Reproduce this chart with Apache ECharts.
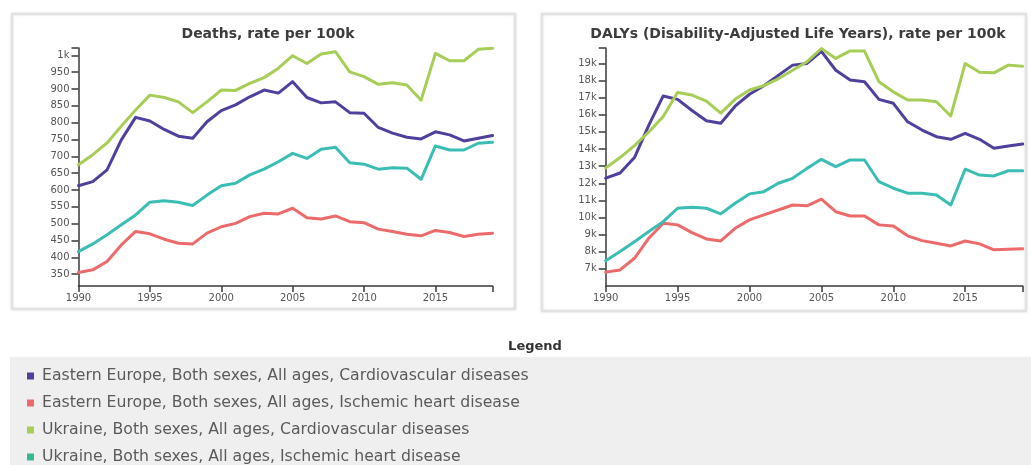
<!DOCTYPE html>
<html>
<head>
<meta charset="utf-8">
<script src="https://cdn.jsdelivr.net/npm/echarts@6/dist/echarts.min.js"></script>
<style>
  html, body { margin: 0; padding: 0; background: #ffffff; }
  #chart { width: 1031px; height: 465px; }
</style>
</head>
<body>
<div id="chart"></div>
<script>
// Years shared by both panels
const years = [1990, 1991, 1992, 1993, 1994, 1995, 1996, 1997, 1998, 1999,
               2000, 2001, 2002, 2003, 2004, 2005, 2006, 2007, 2008, 2009,
               2010, 2011, 2012, 2013, 2014, 2015, 2016, 2017, 2018, 2019];

const seriesNames = [
  'Eastern Europe, Both sexes, All ages, Cardiovascular diseases',
  'Eastern Europe, Both sexes, All ages, Ischemic heart disease',
  'Ukraine, Both sexes, All ages, Cardiovascular diseases',
  'Ukraine, Both sexes, All ages, Ischemic heart disease'
];
const seriesColors = ['#4f409d', '#ec6a6a', '#a6cd55', '#3abdb4'];
const legendColors = ['#4f409d', '#ec6a6a', '#a6cd55', '#34b994'];

// Deaths, rate per 100k
const deathsEECvd = [613, 625, 660, 749, 816, 805, 780, 760, 754, 803,
                     836, 853, 877, 897, 888, 922, 875, 859, 862, 830,
                     828, 786, 769, 757, 752, 773, 764, 746, 754, 762];
const deathsEEIhd = [355, 363, 388, 437, 477, 470, 454, 442, 440, 472,
                     491, 501, 521, 531, 529, 546, 518, 514, 523, 506,
                     503, 484, 477, 469, 464, 480, 474, 462, 469, 472];
const deathsUACvd = [675, 705, 740, 790, 838, 882, 875, 862, 830, 862,
                     897, 896, 917, 934, 962, 999, 976, 1004, 1011, 951,
                     937, 914, 919, 912, 867, 1006, 984, 984, 1018, 1021];
const deathsUAIhd = [417, 440, 467, 497, 526, 564, 568, 564, 554, 585,
                     613, 620, 645, 662, 684, 709, 694, 721, 727, 681,
                     677, 662, 666, 665, 632, 731, 719, 719, 739, 742];

// DALYs, rate per 100k
const dalysEECvd = [12300, 12600, 13500, 15400, 17100, 16900, 16250, 15650, 15500, 16500,
                    17200, 17700, 18300, 18900, 19000, 19700, 18600, 18030, 17930, 16900,
                    16670, 15590, 15110, 14720, 14570, 14920, 14570, 14040, 14180, 14290];
const dalysEEIhd = [6810, 6940, 7620, 8790, 9670, 9570, 9120, 8750, 8630, 9370,
                    9860, 10150, 10440, 10730, 10680, 11070, 10340, 10090, 10090, 9570,
                    9510, 8930, 8650, 8500, 8340, 8630, 8460, 8110, 8150, 8170];
const dalysUACvd = [12900, 13500, 14200, 15000, 15900, 17300, 17150, 16800, 16100, 16900,
                    17450, 17700, 18100, 18600, 19100, 19870, 19290, 19730, 19720, 17930,
                    17340, 16860, 16860, 16760, 15930, 19000, 18480, 18450, 18900, 18840];
const dalysUAIhd = [7480, 8010, 8590, 9180, 9760, 10540, 10600, 10540, 10210, 10830,
                    11380, 11510, 12000, 12290, 12870, 13400, 12970, 13360, 13360, 12090,
                    11710, 11420, 11420, 11320, 10730, 12820, 12480, 12430, 12730, 12730];

// Axis ticks
const xTicks = [1990, 1995, 2000, 2005, 2010, 2015];
const deathsTicks = [350, 400, 450, 500, 550, 600, 650, 700, 750, 800, 850, 900, 950, 1000];
const dalysTicks = [7000, 8000, 9000, 10000, 11000, 12000, 13000, 14000, 15000, 16000, 17000, 18000, 19000];

const deathsRange = [315, 1022];
const dalysRange = [6000, 19900];

const axisColor = '#3a3a3a';
const labelStyle = { color: '#555', fontSize: 10, fontFamily: 'DejaVu Sans' };

function pairs(values) {
  return years.map((y, i) => [y, values[i]]);
}

function kFormat(v) {
  return v >= 1000 ? (v / 1000) + 'k' : String(v);
}

function xAxisFor(gridIndex) {
  return {
    type: 'value', gridIndex: gridIndex,
    min: 1990, max: 2019,
    axisLine: { show: true, onZero: false, lineStyle: { color: axisColor, width: 1.5 } },
    axisTick: { show: true, length: 6, lineStyle: { color: axisColor, width: 1.5 },
                customValues: xTicks.concat([2019]) },
    axisLabel: Object.assign({ customValues: xTicks, formatter: v => String(v), margin: 7 }, labelStyle),
    splitLine: { show: false }
  };
}

function yAxisFor(gridIndex, range, ticks) {
  return {
    type: 'value', gridIndex: gridIndex,
    min: range[0], max: range[1],
    axisLine: { show: true, lineStyle: { color: axisColor, width: 1.5 } },
    axisTick: { show: true, length: 7, lineStyle: { color: axisColor, width: 1.5 },
                customValues: ticks.concat([range[1]]) },
    axisLabel: Object.assign({ customValues: ticks, formatter: kFormat, margin: 9 }, labelStyle),
    splitLine: { show: false }
  };
}

function line(name, color, data, idx) {
  return {
    name: name, type: 'line',
    xAxisIndex: idx, yAxisIndex: idx,
    data: pairs(data),
    showSymbol: false, symbol: 'none',
    lineStyle: { color: color, width: 3, join: 'round', cap: 'round' },
    itemStyle: { color: color },
    emphasis: { disabled: true },
    z: 3
  };
}

const chart = echarts.init(document.getElementById('chart'), null, { renderer: 'canvas' });

chart.setOption({
  animation: false,
  backgroundColor: '#ffffff',
  title: [
    { text: 'Deaths, rate per 100k', left: 263, top: 22, textAlign: 'center',
      textStyle: { fontFamily: 'DejaVu Sans', fontWeight: 'bold', fontSize: 14, color: '#3c3c3c' } },
    { text: 'DALYs (Disability-Adjusted Life Years), rate per 100k', left: 793, top: 22, textAlign: 'center',
      textStyle: { fontFamily: 'DejaVu Sans', fontWeight: 'bold', fontSize: 14, color: '#3c3c3c' } },
    { text: 'Legend', left: 530, top: 335, textAlign: 'center',
      textStyle: { fontFamily: 'DejaVu Sans', fontWeight: 'bold', fontSize: 13, color: '#333' } }
  ],
  graphic: [
    { type: 'rect', z: -10, shape: { x: 12, y: 14, width: 503, height: 295 },
      style: { fill: '#ffffff', stroke: '#e2e2e2', lineWidth: 2.5,
               shadowBlur: 3, shadowColor: 'rgba(0,0,0,0.08)' } },
    { type: 'rect', z: -10, shape: { x: 542, y: 14, width: 484, height: 297 },
      style: { fill: '#ffffff', stroke: '#e2e2e2', lineWidth: 2.5,
               shadowBlur: 3, shadowColor: 'rgba(0,0,0,0.08)' } },
    { type: 'rect', z: -10, shape: { x: 10, y: 357, width: 1021, height: 108 },
      style: { fill: '#efefef' } }
  ],
  grid: [
    { left: 78.5, top: 48, width: 414, height: 238 },
    { left: 605.7, top: 48, width: 417, height: 238 }
  ],
  xAxis: [xAxisFor(0), xAxisFor(1)],
  yAxis: [yAxisFor(0, deathsRange, deathsTicks), yAxisFor(1, dalysRange, dalysTicks)],
  legend: {
    data: seriesNames.map((n, i) => ({ name: n, itemStyle: { color: legendColors[i] } })),
    orient: 'vertical',
    left: 27, top: 368,
    padding: 0,
    itemWidth: 7, itemHeight: 7, itemGap: 11,
    icon: 'rect',
    selectedMode: false,
    textStyle: { fontFamily: 'DejaVu Sans', fontSize: 15.7, color: '#5a5a5a', lineHeight: 16, padding: [0, 0, 0, 3] }
  },
  series: [
    line(seriesNames[0], seriesColors[0], deathsEECvd, 0),
    line(seriesNames[1], seriesColors[1], deathsEEIhd, 0),
    line(seriesNames[2], seriesColors[2], deathsUACvd, 0),
    line(seriesNames[3], seriesColors[3], deathsUAIhd, 0),
    line(seriesNames[0], seriesColors[0], dalysEECvd, 1),
    line(seriesNames[1], seriesColors[1], dalysEEIhd, 1),
    line(seriesNames[2], seriesColors[2], dalysUACvd, 1),
    line(seriesNames[3], seriesColors[3], dalysUAIhd, 1)
  ]
});
</script>
</body>
</html>
